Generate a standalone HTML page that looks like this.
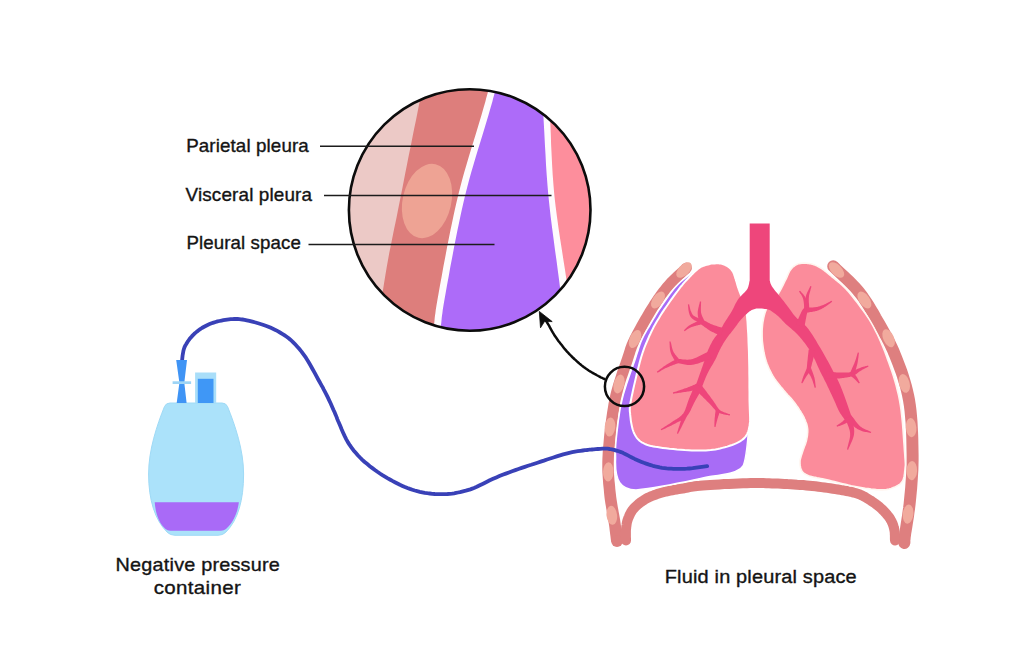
<!DOCTYPE html>
<html><head><meta charset="utf-8">
<style>
html,body{margin:0;padding:0;background:#fff;}
body{width:1024px;height:668px;overflow:hidden;position:relative;}
svg{position:absolute;left:0;top:0;}
text{font-family:"Liberation Sans",sans-serif;fill:#141414;stroke:#141414;stroke-width:0.35px;}
</style></head><body>
<svg width="1024" height="668" viewBox="0 0 1024 668">
<rect width="1024" height="668" fill="#fff"/>
<defs><clipPath id="mag"><circle cx="469.7" cy="210" r="120.8"/></clipPath></defs>
<g clip-path="url(#mag)">
<rect x="340" y="80" width="260" height="260" fill="#ecc9c6"/>
<path d="M428.0 60.0 L427.2 64.2 L426.3 68.3 L425.6 72.2 L424.8 76.2 L423.9 80.4 L423.0 84.8 L422.1 89.7 L421.0 95.0 L419.8 100.9 L418.5 107.2 L417.2 113.9 L415.8 120.9 L414.3 128.1 L412.8 135.4 L411.4 142.7 L409.9 150.0 L408.4 157.3 L406.9 164.9 L405.4 172.6 L403.9 180.3 L402.4 188.0 L400.9 195.6 L399.4 202.9 L398.0 210.0 L396.7 216.7 L395.4 223.0 L394.1 229.0 L392.9 235.0 L391.7 241.0 L390.5 247.0 L389.2 253.3 L388.0 260.0 L386.7 267.2 L385.4 275.0 L384.1 283.1 L382.8 291.2 L381.5 299.3 L380.2 306.9 L379.1 313.9 L378.0 320.0 L376.9 325.9 L376.0 330.8 L375.1 335.0 L374.4 338.7 L373.6 342.3 L372.8 346.0 L372.0 350.0 L640 345 L640 60 Z" fill="#dd7e7c"/>
<ellipse cx="427" cy="201" rx="24.3" ry="37.8" transform="rotate(13 427 201)" fill="#eea394"/>
<path d="M495.0 65.0 L494.1 68.4 L493.2 71.9 L492.3 75.3 L491.4 78.8 L490.5 82.2 L489.6 85.6 L488.7 89.1 L487.8 92.5 L486.9 95.7 L486.1 98.6 L485.4 101.4 L484.6 104.2 L483.7 107.3 L482.7 110.8 L481.5 115.0 L480.0 120.0 L478.2 126.0 L476.1 132.9 L473.8 140.6 L471.3 148.6 L468.8 156.8 L466.4 164.9 L464.1 172.8 L462.1 180.0 L460.4 186.6 L458.8 192.7 L457.4 198.6 L456.0 204.4 L454.7 210.2 L453.4 216.3 L452.0 222.9 L450.5 230.0 L448.9 238.1 L447.1 247.1 L445.3 256.8 L443.4 266.6 L441.7 276.2 L440.0 285.2 L438.6 293.3 L437.4 300.0 L436.5 305.3 L435.8 309.5 L435.4 312.9 L435.0 315.6 L434.7 318.0 L434.5 320.2 L434.3 322.4 L434.0 325.0 L433.6 328.1 L433.3 331.1 L433.0 333.9 L432.8 336.7 L432.5 339.4 L432.3 342.2 L432.0 345.0 L640 345 L640 60 Z" fill="#fefbfd"/>
<path d="M502.0 65.0 L501.1 68.4 L500.2 71.9 L499.3 75.3 L498.4 78.8 L497.5 82.2 L496.6 85.6 L495.7 89.1 L494.8 92.5 L493.9 95.7 L493.1 98.6 L492.4 101.4 L491.6 104.2 L490.7 107.3 L489.7 110.8 L488.5 115.0 L487.0 120.0 L485.2 126.0 L483.1 132.9 L480.8 140.6 L478.3 148.6 L475.8 156.8 L473.4 164.9 L471.1 172.8 L469.1 180.0 L467.4 186.6 L465.8 192.7 L464.4 198.6 L463.0 204.4 L461.7 210.2 L460.4 216.3 L459.0 222.9 L457.5 230.0 L455.9 238.1 L454.1 247.1 L452.3 256.8 L450.4 266.6 L448.7 276.2 L447.0 285.2 L445.6 293.3 L444.4 300.0 L443.5 305.3 L442.8 309.5 L442.4 312.9 L442.0 315.6 L441.7 318.0 L441.5 320.2 L441.3 322.4 L441.0 325.0 L440.6 328.1 L440.3 331.1 L440.0 333.9 L439.8 336.7 L439.5 339.4 L439.3 342.2 L439.0 345.0 L640 345 L640 60 Z" fill="#ad6bf9"/>
<path d="M540.0 60.0 L540.4 66.9 L540.8 73.6 L541.2 80.2 L541.6 86.8 L542.0 93.6 L542.4 100.8 L542.9 108.3 L543.4 116.5 L543.9 125.3 L544.4 134.6 L544.9 144.4 L545.5 154.4 L546.0 164.7 L546.7 175.1 L547.5 185.5 L548.4 195.8 L549.5 206.3 L550.7 217.1 L552.1 228.1 L553.6 239.2 L555.0 250.1 L556.5 260.5 L557.8 270.5 L559.0 279.6 L560.2 289.0 L561.3 297.5 L562.3 305.3 L563.2 312.7 L564.1 320.0 L565.0 327.3 L566.0 335.0 L640 345 L640 60 Z" fill="#fefbfd"/>
<path d="M548.0 60.0 L548.2 66.9 L548.4 73.6 L548.6 80.2 L548.9 86.8 L549.1 93.6 L549.3 100.8 L549.6 108.3 L550.0 116.5 L550.4 125.3 L550.8 134.6 L551.1 144.4 L551.6 154.4 L552.1 164.7 L552.7 175.1 L553.5 185.5 L554.4 195.8 L555.6 206.3 L557.0 217.1 L558.5 228.1 L560.2 239.2 L561.9 250.1 L563.5 260.5 L565.1 270.5 L566.4 279.6 L567.7 289.0 L568.9 297.5 L570.0 305.3 L571.0 312.7 L572.0 320.0 L573.0 327.3 L574.0 335.0 L640 345 L640 60 Z" fill="#fd8e9c"/>
</g>
<circle cx="469.7" cy="210" r="120.8" fill="none" stroke="#0c0c0c" stroke-width="2.6"/>
<g fill="none" stroke="#de7f7f" stroke-linecap="round" stroke-linejoin="round">
</g>
<path d="M682.8 264.1 L681.3 265.5 L679.8 266.9 L678.3 268.3 L676.7 269.7 L675.2 271.1 L673.6 272.6 L672.1 274.0 L670.5 275.5 L669.0 277.0 L667.4 278.6 L665.9 280.3 L664.4 281.9 L663.0 283.6 L661.6 285.2 L660.3 286.9 L659.0 288.5 L657.7 290.2 L656.4 291.9 L655.2 293.7 L653.9 295.5 L652.6 297.4 L651.3 299.4 L649.9 301.5 L648.6 303.7 L647.1 306.1 L645.5 308.6 L643.9 311.3 L642.2 314.2 L640.5 317.1 L638.8 320.0 L637.1 323.0 L635.5 325.9 L634.0 328.7 L632.5 331.4 L631.2 334.0 L630.0 336.3 L629.0 338.5 L628.1 340.3 L627.4 342.0 L626.7 343.6 L626.2 345.1 L625.6 346.5 L625.1 348.0 L624.7 349.5 L624.2 351.1 L623.6 352.9 L622.9 354.9 L622.2 357.3 L621.3 359.8 L620.4 362.6 L619.3 365.6 L618.2 368.8 L617.0 372.1 L615.9 375.6 L614.7 379.2 L613.5 382.9 L612.4 386.8 L611.3 390.7 L610.3 394.8 L609.5 398.9 L608.6 403.1 L607.9 407.6 L607.1 412.3 L606.4 417.2 L605.7 422.1 L605.1 427.1 L604.5 432.0 L604.0 436.9 L603.6 441.7 L603.2 446.3 L602.8 450.6 L602.6 454.7 L602.4 458.5 L602.3 462.2 L602.3 465.7 L602.3 469.1 L602.4 472.3 L602.6 475.4 L602.8 478.4 L603.0 481.3 L603.2 484.2 L603.5 487.0 L603.8 489.8 L604.0 492.6 L604.3 495.4 L604.6 498.3 L605.0 501.1 L605.4 503.8 L605.9 506.5 L606.3 509.1 L606.8 511.7 L607.2 514.1 L607.6 516.5 L608.0 518.7 L608.4 520.8 L608.7 522.9 L609.0 525.0 L609.3 526.9 L609.5 528.8 L609.7 530.5 L609.9 532.1 L610.1 533.7 L610.3 535.3 L610.5 536.8 L610.7 538.4 L610.9 540.1 L611.1 541.8 L622.9 540.2 L622.6 538.6 L622.4 537.0 L622.2 535.4 L622.0 533.8 L621.8 532.3 L621.6 530.6 L621.4 529.0 L621.2 527.2 L620.9 525.3 L620.6 523.3 L620.3 521.1 L620.0 519.0 L619.6 516.7 L619.2 514.4 L618.7 512.0 L618.3 509.6 L617.8 507.1 L617.4 504.6 L617.0 502.0 L616.6 499.4 L616.2 496.8 L615.9 494.1 L615.6 491.4 L615.3 488.7 L615.1 485.9 L614.8 483.1 L614.5 480.4 L614.3 477.6 L614.1 474.7 L614.0 471.8 L613.8 468.8 L613.8 465.6 L613.8 462.4 L613.9 458.9 L614.0 455.3 L614.3 451.4 L614.6 447.2 L615.0 442.7 L615.4 438.1 L615.9 433.3 L616.4 428.4 L617.0 423.6 L617.7 418.7 L618.3 414.0 L619.1 409.5 L619.8 405.2 L620.5 401.1 L621.4 397.3 L622.3 393.5 L623.3 389.8 L624.3 386.1 L625.4 382.6 L626.5 379.1 L627.7 375.7 L628.8 372.4 L629.9 369.3 L630.9 366.3 L631.9 363.4 L632.8 360.7 L633.6 358.3 L634.2 356.2 L634.8 354.4 L635.3 352.8 L635.7 351.4 L636.2 350.2 L636.6 348.9 L637.1 347.7 L637.6 346.4 L638.3 344.9 L639.0 343.2 L640.0 341.3 L641.1 339.0 L642.4 336.6 L643.7 334.0 L645.2 331.2 L646.8 328.4 L648.4 325.5 L650.1 322.6 L651.7 319.7 L653.3 317.0 L654.9 314.3 L656.4 311.8 L657.8 309.5 L659.2 307.4 L660.5 305.4 L661.7 303.5 L662.9 301.7 L664.1 300.0 L665.3 298.3 L666.5 296.7 L667.6 295.2 L668.8 293.7 L670.0 292.1 L671.3 290.6 L672.6 289.1 L673.9 287.6 L675.3 286.1 L676.7 284.7 L678.1 283.3 L679.5 281.9 L681.0 280.5 L682.5 279.1 L684.1 277.7 L685.6 276.3 L687.2 274.8 L688.7 273.4 L690.2 271.9Z" fill="#de7f7f"/><circle cx="686.5" cy="268" r="5.4" fill="#de7f7f"/><circle cx="617" cy="541" r="5.9" fill="#de7f7f"/>
<g fill="none" stroke="#de7f7f" stroke-linecap="round" stroke-linejoin="round">
<path d="M833.2 266.2 L835.8 268.8 L838.5 271.3 L841.2 273.8 L843.9 276.4 L846.6 278.9 L849.2 281.4 L851.8 284.0 L854.3 286.6 L856.7 289.3 L859.0 292.0 L861.2 294.7 L863.2 297.5 L865.1 300.3 L867.0 303.1 L868.8 306.0 L870.5 308.9 L872.3 311.8 L874.0 314.8 L875.7 317.9 L877.5 321.0 L879.3 324.1 L881.1 327.3 L882.9 330.5 L884.7 333.7 L886.5 337.0 L888.3 340.4 L890.0 343.8 L891.7 347.4 L893.4 351.1 L895.0 355.0 L896.6 359.0 L898.2 363.1 L899.8 367.4 L901.4 371.7 L902.9 376.2 L904.3 380.8 L905.7 385.4 L906.9 390.2 L908.0 395.0 L909.0 400.0 L909.8 405.1 L910.5 410.5 L911.0 416.1 L911.5 421.8 L911.8 427.5 L912.1 433.2 L912.3 438.9 L912.4 444.5 L912.5 449.9 L912.6 455.0 L912.6 459.9 L912.5 464.8 L912.4 469.6 L912.1 474.2 L911.8 478.8 L911.5 483.2 L911.2 487.6 L910.8 491.8 L910.4 495.9 L910.0 500.0 L909.6 504.0 L909.1 508.1 L908.5 512.1 L908.0 516.0 L907.4 519.8 L906.8 523.4 L906.3 526.8 L905.8 529.9 L905.3 532.6 L905.0 535.0 L904.7 537.1 L904.6 538.6 L904.4 539.7 L904.4 540.4 L904.4 540.9 L904.4 541.3 L904.4 541.7 L904.4 542.3 L904.3 543.0" stroke-width="12"/>
<path d="M626.0 540.4 L626.0 539.3 L626.0 538.2 L625.9 537.2 L625.9 536.1 L625.9 535.0 L625.9 533.9 L625.9 532.8 L625.9 531.8 L625.9 530.7 L626.0 529.6 L626.1 528.5 L626.2 527.5 L626.3 526.4 L626.5 525.3 L626.6 524.3 L626.8 523.2 L627.0 522.1 L627.3 521.0 L627.6 520.0 L628.0 518.9 L628.4 517.8 L628.9 516.7 L629.3 515.6 L629.9 514.5 L630.4 513.4 L631.0 512.3 L631.7 511.2 L632.4 510.2 L633.2 509.1 L634.1 508.1 L635.0 507.1 L636.1 506.1 L637.2 505.1 L638.3 504.1 L639.5 503.1 L640.8 502.2 L642.1 501.2 L643.4 500.4 L644.8 499.5 L646.2 498.7 L647.6 497.9 L649.1 497.2 L650.6 496.5 L652.2 495.9 L653.7 495.3 L655.4 494.7 L657.0 494.1 L658.8 493.5 L660.5 493.0 L662.3 492.5 L664.2 492.0 L666.1 491.5 L668.1 491.1 L670.1 490.7 L672.1 490.3 L674.2 489.9 L676.3 489.6 L678.4 489.2 L680.5 488.8 L682.5 488.5 L684.4 488.2 L686.2 487.8 L687.8 487.5 L689.4 487.2 L691.1 486.9 L692.9 486.6 L694.9 486.3 L697.1 486.0 L699.7 485.8 L702.7 485.5 L706.2 485.2 L710.2 485.0 L714.6 484.7 L719.3 484.4 L724.1 484.1 L729.0 483.9 L733.8 483.7 L738.5 483.5 L742.9 483.3 L746.9 483.2 L750.5 483.1 L754.0 483.1 L757.2 483.1 L760.3 483.1 L763.2 483.1 L766.2 483.2 L769.1 483.3 L772.0 483.4 L774.9 483.5 L778.0 483.6 L781.1 483.7 L784.3 483.9 L787.5 484.1 L790.7 484.2 L793.9 484.4 L797.0 484.7 L800.2 484.9 L803.3 485.1 L806.4 485.4 L809.4 485.7 L812.4 486.0 L815.5 486.3 L818.5 486.7 L821.5 487.1 L824.5 487.5 L827.4 487.9 L830.2 488.3 L832.9 488.7 L835.5 489.1 L838.0 489.5 L840.3 489.9 L842.5 490.3 L844.6 490.6 L846.6 491.0 L848.5 491.4 L850.4 491.7 L852.1 492.1 L853.8 492.6 L855.4 493.0 L857.0 493.5 L858.5 494.0 L859.9 494.5 L861.1 495.1 L862.3 495.6 L863.4 496.2 L864.6 496.8 L865.6 497.4 L866.7 498.1 L867.8 498.8 L869.0 499.5 L870.2 500.2 L871.4 501.0 L872.6 501.8 L873.8 502.6 L875.1 503.5 L876.3 504.4 L877.4 505.3 L878.6 506.2 L879.7 507.1 L880.8 508.1 L881.9 509.1 L882.9 510.1 L884.0 511.2 L885.0 512.3 L886.0 513.4 L886.9 514.5 L887.8 515.6 L888.7 516.7 L889.5 517.8 L890.2 518.9 L890.8 520.0 L891.4 521.0 L891.9 522.1 L892.4 523.2 L892.8 524.2 L893.2 525.3 L893.5 526.4 L893.8 527.5 L894.1 528.5 L894.3 529.6 L894.5 530.8 L894.7 532.0 L894.8 533.2 L894.8 534.4 L894.9 535.6 L894.9 536.8 L894.9 538.0 L894.9 539.2 L895.0 540.4" stroke-width="10"/>
</g>
<g fill="#f1aa9d">
<ellipse cx="684" cy="270" rx="5.3" ry="9.6" transform="rotate(45 684 270)"/>
<ellipse cx="658" cy="300" rx="5.3" ry="9.6" transform="rotate(35 658 300)"/>
<ellipse cx="635" cy="339" rx="5.3" ry="9.6" transform="rotate(25 635 339)"/>
<ellipse cx="619" cy="384" rx="5.3" ry="9.6" transform="rotate(15 619 384)"/>
<ellipse cx="610" cy="427" rx="5.3" ry="9.6" transform="rotate(6 610 427)"/>
<ellipse cx="608.3" cy="471.8" rx="5.3" ry="9.6" transform="rotate(2 608.3 471.8)"/>
<ellipse cx="611.8" cy="515.3" rx="5.3" ry="9.6" transform="rotate(-6 611.8 515.3)"/>
<ellipse cx="836.5" cy="270" rx="5.3" ry="9.6" transform="rotate(-45 836.5 270)"/>
<ellipse cx="864.4" cy="300" rx="5.3" ry="9.6" transform="rotate(-35 864.4 300)"/>
<ellipse cx="888.6" cy="338.3" rx="5.3" ry="9.6" transform="rotate(-25 888.6 338.3)"/>
<ellipse cx="904.3" cy="383.4" rx="5.3" ry="9.6" transform="rotate(-15 904.3 383.4)"/>
<ellipse cx="911.1" cy="427.6" rx="5.3" ry="9.6" transform="rotate(-5 911.1 427.6)"/>
<ellipse cx="911.8" cy="470.7" rx="5.3" ry="9.6" transform="rotate(2 911.8 470.7)"/>
<ellipse cx="908.1" cy="514.1" rx="5.3" ry="9.6" transform="rotate(6 908.1 514.1)"/>
</g>
<path d="M694.0 271.0 L691.8 272.8 L689.6 274.6 L687.3 276.4 L685.1 278.1 L682.9 279.9 L680.7 281.8 L678.6 283.8 L676.5 286.0 L674.4 288.4 L672.3 291.0 L670.3 293.7 L668.2 296.5 L666.3 299.3 L664.4 302.0 L662.6 304.6 L661.0 307.0 L659.5 309.2 L658.2 311.2 L657.0 313.1 L655.9 315.0 L654.8 316.8 L653.7 318.6 L652.6 320.5 L651.5 322.5 L650.3 324.5 L649.1 326.6 L647.8 328.6 L646.6 330.7 L645.4 332.8 L644.2 335.0 L643.1 337.2 L642.0 339.5 L641.0 341.8 L640.2 343.9 L639.5 346.1 L638.7 348.3 L638.0 350.7 L637.1 353.4 L636.1 356.5 L635.0 360.0 L633.6 364.1 L632.0 368.6 L630.2 373.6 L628.4 378.8 L626.6 384.1 L624.9 389.5 L623.3 394.9 L622.0 400.0 L620.9 405.1 L619.9 410.4 L619.1 415.8 L618.3 421.1 L617.7 426.3 L617.1 431.3 L616.6 435.9 L616.2 440.0 L615.8 444.1 L615.6 447.6 L615.5 450.7 L615.5 453.5 L615.6 456.2 L615.6 459.0 L615.5 462.0 C615.5 480 620 489.5 636 489.9 C665 487 690 480.5 710 476.5 C725 474.5 738 473 743 466 C746 460 747 450 748.5 430 L749 420 L700 285 Z" fill="#a86cf6" stroke="#fff" stroke-width="1.4"/>
<path d="M711.3 263.5 L712.2 263.5 L713.1 263.5 L714.1 263.4 L715.0 263.4 L715.9 263.3 L716.8 263.3 L717.7 263.3 L718.6 263.3 L719.5 263.4 L720.3 263.5 L721.1 263.6 L721.9 263.8 L722.7 264.0 L723.4 264.3 L724.1 264.5 L724.8 264.8 L725.5 265.1 L726.2 265.5 L726.9 265.8 L727.5 266.2 L728.1 266.6 L728.7 267.1 L729.3 267.5 L729.9 268.0 L730.4 268.6 L731.0 269.1 L731.5 269.7 L731.9 270.3 L732.4 270.9 L732.8 271.5 L733.2 272.1 L733.5 272.8 L733.8 273.5 L734.1 274.2 L734.3 274.9 L734.5 275.6 L734.8 276.3 L735.0 277.1 L735.2 277.9 L735.5 278.7 L735.8 279.5 L736.0 280.4 L736.3 281.3 L736.6 282.3 L736.9 283.2 L737.1 284.1 L737.4 285.1 L737.7 286.0 L737.9 286.9 L738.2 287.7 L738.5 288.5 L738.7 289.2 L739.0 289.9 L739.3 290.6 L739.5 291.3 L739.8 292.0 L740.1 292.7 L740.3 293.4 L740.6 294.1 L740.9 294.9 L741.2 295.7 L741.5 296.6 L741.8 297.4 L742.1 298.3 L742.4 299.1 L742.7 300.1 L743.1 301.0 L743.4 302.0 L743.7 303.0 L744.0 304.0 L744.3 305.0 L744.6 305.8 L744.9 306.5 L745.3 307.3 L745.6 308.1 L745.9 309.1 L746.2 310.3 L746.5 311.8 L746.7 313.7 L747.0 316.0 L747.2 318.8 L747.5 322.0 L747.7 325.5 L747.9 329.4 L748.2 333.4 L748.4 337.7 L748.5 342.0 L748.7 346.4 L748.9 350.7 L749.0 355.0 L749.1 359.3 L749.2 363.9 L749.3 368.7 L749.3 373.5 L749.4 378.3 L749.4 383.1 L749.4 387.7 L749.5 392.1 L749.5 396.2 L749.5 400.0 L749.6 403.4 L749.7 406.6 L749.8 409.6 L749.9 412.3 L750.0 414.9 L750.1 417.4 L750.1 419.7 L750.0 421.9 L749.8 424.0 L749.5 426.0 L749.1 427.9 L748.7 429.7 L748.3 431.3 L747.7 432.7 L747.1 434.1 L746.4 435.4 L745.6 436.6 L744.5 437.7 L743.4 438.9 L742.0 440.0 L740.4 441.1 L738.6 442.2 L736.6 443.2 L734.4 444.1 L732.1 445.0 L729.7 445.8 L727.3 446.6 L724.8 447.3 L722.4 447.9 L720.0 448.5 L717.7 449.0 L715.4 449.4 L713.0 449.7 L710.7 450.0 L708.3 450.2 L705.9 450.4 L703.3 450.5 L700.7 450.5 L697.9 450.5 L695.0 450.5 L691.8 450.4 L688.4 450.2 L684.7 450.0 L680.9 449.7 L677.0 449.4 L673.2 449.0 L669.5 448.7 L666.0 448.3 L662.8 447.9 L660.0 447.5 L657.5 447.1 L655.3 446.8 L653.3 446.4 L651.5 446.1 L649.9 445.7 L648.4 445.3 L646.9 444.8 L645.6 444.3 L644.3 443.7 L643.0 443.0 L641.8 442.3 L640.6 441.5 L639.5 440.7 L638.6 439.8 L637.7 438.8 L636.8 437.8 L636.1 436.8 L635.3 435.6 L634.7 434.4 L634.0 433.0 L633.4 431.5 L632.8 429.8 L632.3 428.1 L631.9 426.2 L631.5 424.3 L631.1 422.3 L630.8 420.3 L630.6 418.4 L630.4 416.6 L630.2 414.9 L630.1 413.4 L629.9 412.1 L629.8 411.0 L629.8 409.9 L629.8 408.9 L629.8 407.7 L630.0 406.3 L630.2 404.6 L630.5 402.5 L631.0 400.0 L631.6 396.9 L632.4 393.2 L633.3 389.0 L634.3 384.6 L635.4 380.0 L636.5 375.3 L637.6 370.8 L638.7 366.5 L639.7 362.6 L640.6 359.3 L641.4 356.5 L642.2 354.0 L642.9 351.8 L643.6 349.8 L644.2 348.0 L644.9 346.3 L645.6 344.6 L646.3 343.0 L647.0 341.3 L647.8 339.5 L648.6 337.6 L649.4 335.8 L650.3 334.0 L651.1 332.2 L652.0 330.4 L652.9 328.6 L653.8 326.8 L654.8 325.1 L655.8 323.3 L656.8 321.5 L657.9 319.7 L659.0 317.9 L660.1 316.1 L661.2 314.3 L662.4 312.4 L663.6 310.6 L664.8 308.8 L666.1 307.0 L667.3 305.3 L668.5 303.5 L669.7 301.7 L671.0 299.9 L672.3 298.1 L673.7 296.2 L675.0 294.4 L676.3 292.7 L677.6 291.0 L678.8 289.4 L679.9 287.9 L681.0 286.5 L682.0 285.3 L682.9 284.1 L683.8 283.1 L684.6 282.2 L685.4 281.3 L686.1 280.5 L686.9 279.8 L687.6 279.0 L688.3 278.3 L689.0 277.5 L689.7 276.7 L690.4 276.0 L691.1 275.3 L691.7 274.6 L692.4 274.0 L693.0 273.3 L693.6 272.7 L694.3 272.1 L694.9 271.6 L695.5 271.0 L696.1 270.5 L696.7 270.0 L697.2 269.5 L697.7 269.0 L698.2 268.6 L698.8 268.2 L699.4 267.8 L700.0 267.4 L700.7 267.0 L701.4 266.6 L702.3 266.2 L703.3 265.8 L704.4 265.5 L705.5 265.1 L706.7 264.8 L707.9 264.5 L709.0 264.2 L710.2 263.8 L711.3 263.5Z" fill="#fb8c9b" stroke="#fff" stroke-width="2"/>
<path d="M804.1 263.0 L805.0 263.1 L805.9 263.2 L806.8 263.3 L807.7 263.4 L808.6 263.5 L809.5 263.6 L810.4 263.8 L811.3 263.9 L812.2 264.1 L813.1 264.4 L814.0 264.7 L814.9 265.1 L815.8 265.4 L816.7 265.9 L817.6 266.3 L818.5 266.8 L819.4 267.3 L820.3 267.8 L821.2 268.3 L822.1 268.9 L823.0 269.5 L823.9 270.1 L824.7 270.8 L825.6 271.5 L826.4 272.2 L827.3 272.9 L828.2 273.6 L829.1 274.4 L830.0 275.2 L831.0 276.0 L832.0 276.8 L833.0 277.6 L834.1 278.5 L835.2 279.4 L836.3 280.3 L837.4 281.2 L838.5 282.1 L839.6 283.0 L840.7 284.0 L841.8 285.0 L842.8 285.9 L843.7 286.8 L844.6 287.7 L845.5 288.5 L846.4 289.4 L847.3 290.4 L848.3 291.5 L849.4 292.8 L850.6 294.3 L852.0 296.0 L853.6 298.0 L855.3 300.2 L857.2 302.6 L859.2 305.2 L861.2 307.9 L863.3 310.7 L865.3 313.5 L867.3 316.5 L869.2 319.4 L871.0 322.4 L872.7 325.4 L874.3 328.3 L875.8 331.3 L877.4 334.4 L878.8 337.5 L880.3 340.8 L881.7 344.1 L883.2 347.6 L884.6 351.2 L886.0 355.0 L887.4 359.0 L888.9 363.0 L890.4 367.3 L891.9 371.6 L893.4 376.1 L894.8 380.7 L896.1 385.4 L897.3 390.2 L898.5 395.0 L899.5 400.0 L900.4 405.3 L901.2 411.0 L901.9 417.1 L902.5 423.2 L903.0 429.4 L903.4 435.5 L903.8 441.2 L904.2 446.5 L904.5 451.1 L904.8 455.0 L905.0 458.1 L905.2 460.5 L905.3 462.3 L905.4 463.6 L905.4 464.7 L905.4 465.5 L905.3 466.2 L905.2 467.0 L905.1 467.9 L905.0 469.0 L904.9 470.3 L904.7 471.7 L904.6 473.0 L904.4 474.3 L904.2 475.6 L904.0 476.9 L903.7 478.1 L903.3 479.2 L902.9 480.2 L902.4 481.2 L901.8 482.1 L901.2 482.8 L900.5 483.6 L899.8 484.2 L899.0 484.8 L898.2 485.3 L897.3 485.8 L896.4 486.3 L895.4 486.8 L894.3 487.2 L893.2 487.6 L892.2 488.1 L891.1 488.5 L889.9 488.8 L888.7 489.2 L887.4 489.4 L886.0 489.7 L884.4 489.8 L882.7 489.9 L880.8 489.9 L878.7 489.8 L876.3 489.6 L873.7 489.3 L871.0 489.0 L868.2 488.6 L865.3 488.2 L862.4 487.7 L859.5 487.2 L856.7 486.7 L853.9 486.2 L851.2 485.7 L848.4 485.1 L845.5 484.4 L842.7 483.7 L839.8 483.0 L837.0 482.3 L834.3 481.6 L831.7 481.0 L829.2 480.4 L826.9 479.8 L824.7 479.3 L822.6 478.9 L820.6 478.5 L818.7 478.1 L816.9 477.8 L815.2 477.4 L813.6 477.1 L812.1 476.7 L810.7 476.3 L809.4 475.9 L808.2 475.5 L807.2 475.1 L806.3 474.6 L805.5 474.2 L804.7 473.8 L804.1 473.3 L803.5 472.8 L803.0 472.3 L802.5 471.7 L802.0 471.0 L801.6 470.3 L801.2 469.4 L800.9 468.6 L800.6 467.7 L800.4 466.7 L800.2 465.7 L800.1 464.8 L800.0 463.8 L800.0 462.8 L800.0 461.9 L800.0 461.0 L800.1 460.2 L800.3 459.3 L800.5 458.5 L800.7 457.7 L801.0 456.8 L801.2 455.9 L801.5 455.0 L801.9 454.0 L802.2 452.9 L802.6 451.7 L803.0 450.5 L803.5 449.1 L804.0 447.8 L804.5 446.3 L805.1 444.9 L805.6 443.5 L806.0 442.1 L806.4 440.7 L806.7 439.4 L806.9 438.1 L807.2 436.9 L807.4 435.7 L807.5 434.5 L807.6 433.3 L807.7 432.1 L807.7 431.0 L807.7 429.8 L807.6 428.6 L807.4 427.4 L807.2 426.2 L806.9 425.0 L806.6 423.8 L806.2 422.7 L805.7 421.5 L805.3 420.3 L804.7 419.1 L804.2 417.9 L803.6 416.7 L802.9 415.4 L802.2 414.1 L801.4 412.8 L800.6 411.4 L799.7 410.1 L798.8 408.7 L797.9 407.3 L796.9 406.0 L796.0 404.6 L795.0 403.3 L794.0 402.0 L793.0 400.8 L792.0 399.6 L791.0 398.4 L790.0 397.3 L788.9 396.1 L787.8 395.0 L786.8 393.8 L785.7 392.6 L784.6 391.3 L783.5 390.0 L782.4 388.6 L781.2 387.2 L780.0 385.7 L778.8 384.2 L777.6 382.7 L776.4 381.2 L775.2 379.6 L774.1 377.9 L773.0 376.2 L772.0 374.5 L771.1 372.7 L770.2 370.9 L769.3 369.1 L768.5 367.2 L767.7 365.3 L766.9 363.3 L766.2 361.3 L765.6 359.2 L765.0 357.1 L764.5 355.0 L764.0 352.8 L763.6 350.5 L763.2 348.1 L762.9 345.7 L762.6 343.3 L762.3 340.8 L762.2 338.4 L762.1 336.0 L762.1 333.6 L762.1 331.3 L762.2 329.0 L762.4 326.8 L762.6 324.5 L762.9 322.2 L763.3 320.0 L763.7 317.8 L764.2 315.7 L764.8 313.6 L765.4 311.6 L766.2 309.7 L767.1 307.9 L768.2 306.1 L769.3 304.5 L770.6 302.9 L772.0 301.3 L773.3 299.8 L774.6 298.4 L775.9 296.9 L777.1 295.5 L778.1 294.0 L779.0 292.5 L779.9 291.1 L780.7 289.7 L781.4 288.3 L782.1 286.9 L782.8 285.6 L783.4 284.3 L784.1 283.0 L784.7 281.7 L785.3 280.5 L785.9 279.3 L786.5 278.1 L787.0 276.9 L787.5 275.7 L788.0 274.6 L788.5 273.5 L789.0 272.5 L789.5 271.5 L790.0 270.5 L790.6 269.7 L791.2 268.9 L791.8 268.2 L792.4 267.6 L793.0 267.0 L793.6 266.5 L794.3 266.0 L794.9 265.5 L795.6 265.1 L796.2 264.7 L796.9 264.4 L797.7 264.1 L798.4 263.8 L799.2 263.6 L800.0 263.5 L800.9 263.4 L801.7 263.3 L802.5 263.2 L803.3 263.1 L804.1 263.0Z" fill="#fb8c9b" stroke="#fff5ef" stroke-width="1.6"/>
<g fill="#ee467b"><path d="M749.7 223.5 L749.7 280.4 L749.5 281.2 L749.3 282.1 L749.2 283.0 L749.0 283.9 L748.8 284.7 L748.6 285.5 L748.4 286.3 L748.2 287.0 L748.0 287.6 L747.8 288.1 L747.6 288.5 L747.3 288.9 L747.1 289.4 L746.7 289.8 L746.3 290.4 L745.7 291.1 L745.0 291.9 L744.1 292.8 L743.1 293.8 L742.1 294.8 L741.0 295.9 L739.9 297.1 L738.9 298.3 L738.0 299.5 L737.2 300.8 L736.4 302.2 L735.6 303.6 L734.9 305.1 L734.2 306.6 L733.5 308.1 L732.7 309.5 L731.9 311.0 L731.0 312.5 L730.1 314.0 L729.1 315.5 L728.1 317.0 L727.2 318.5 L726.2 319.9 L725.4 321.3 L724.6 322.5 L723.9 323.6 L723.4 324.5 L722.9 325.4 L722.5 326.2 L722.1 327.0 L721.6 327.8 L721.1 328.8 L720.4 329.8 L719.6 331.0 L718.7 332.2 L717.8 333.5 L716.8 334.9 L715.8 336.2 L714.8 337.6 L713.8 339.0 L713.0 340.3 L712.2 341.6 L711.5 343.0 L710.8 344.3 L710.1 345.6 L709.5 347.0 L708.9 348.3 L708.3 349.5 L707.8 350.8 L707.3 352.0 L706.9 353.1 L706.5 354.2 L706.2 355.3 L705.9 356.4 L705.5 357.5 L705.1 358.7 L704.7 360.0 L704.2 361.4 L703.7 362.8 L703.2 364.2 L702.7 365.7 L702.2 367.2 L701.6 368.8 L701.1 370.4 L700.5 372.0 L699.8 373.9 L699.1 375.9 L698.4 377.9 L697.7 379.9 L697.0 381.9 L696.2 384.0 L695.5 386.0 L701.5 388.0 L702.2 386.2 L703.0 384.4 L703.7 382.5 L704.4 380.7 L705.1 378.9 L705.9 377.1 L706.7 375.3 L707.5 373.5 L708.4 371.7 L709.3 370.0 L710.3 368.3 L711.3 366.6 L712.3 364.9 L713.3 363.2 L714.2 361.6 L715.1 360.0 L715.9 358.5 L716.6 357.0 L717.2 355.6 L717.8 354.2 L718.4 352.8 L719.1 351.4 L719.7 350.1 L720.4 348.7 L721.1 347.3 L721.9 346.0 L722.6 344.7 L723.4 343.3 L724.2 342.0 L725.0 340.7 L725.9 339.5 L726.7 338.2 L727.6 337.0 L728.5 335.7 L729.4 334.6 L730.4 333.4 L731.3 332.2 L732.2 331.1 L733.1 329.9 L734.0 328.8 L734.8 327.7 L735.7 326.6 L736.5 325.5 L737.2 324.4 L738.0 323.3 L738.8 322.3 L739.5 321.3 L740.3 320.4 L741.0 319.5 L741.8 318.7 L742.5 317.9 L743.2 317.2 L743.9 316.5 L744.6 315.8 L745.3 315.1 L746.0 314.5 L746.7 313.9 L747.3 313.3 L747.9 312.8 L748.5 312.3 L749.1 311.8 L749.7 311.3 L750.3 310.9 L751.0 310.5 L751.7 310.1 L752.5 309.8 L753.2 309.5 L754.0 309.2 L754.8 309.0 L755.6 308.8 L756.3 308.6 L757.1 308.5 L757.8 308.4 L758.6 308.4 L759.3 308.4 L760.0 308.4 L760.7 308.4 L761.5 308.5 L762.2 308.6 L763.0 308.7 L763.8 308.8 L764.6 308.9 L765.3 308.9 L766.1 309.0 L767.0 309.2 L767.8 309.4 L768.7 309.7 L769.6 310.1 L770.6 310.6 L771.6 311.2 L772.6 311.9 L773.7 312.7 L774.8 313.5 L775.9 314.3 L776.9 315.2 L778.0 316.1 L779.0 317.0 L780.0 318.0 L781.1 319.1 L782.1 320.2 L783.1 321.2 L784.1 322.3 L785.2 323.4 L786.3 324.5 L787.5 325.5 L788.7 326.6 L789.9 327.6 L791.1 328.6 L792.4 329.7 L793.6 330.7 L794.8 331.8 L796.0 332.9 L797.1 334.1 L798.2 335.3 L799.4 336.5 L800.4 337.8 L801.5 339.0 L802.5 340.2 L803.4 341.4 L804.3 342.5 L805.1 343.5 L805.8 344.5 L806.5 345.4 L807.1 346.4 L807.7 347.2 L808.3 348.1 L808.9 349.1 L809.5 350.0 L810.1 350.9 L810.7 351.9 L811.2 352.8 L811.7 353.7 L812.3 354.7 L812.8 355.7 L813.4 356.8 L814.0 358.0 L814.6 359.3 L815.3 360.6 L815.9 362.1 L816.6 363.6 L817.2 365.1 L818.0 366.7 L818.7 368.3 L819.5 370.0 L820.3 371.7 L821.2 373.5 L822.2 375.4 L823.2 377.3 L824.1 379.2 L825.1 381.2 L826.1 383.1 L827.0 385.0 L827.9 386.9 L828.8 388.8 L829.7 390.8 L830.6 392.7 L831.5 394.6 L832.4 396.5 L833.2 398.3 L834.0 400.0 L834.8 401.7 L835.5 403.3 L836.2 404.9 L836.8 406.4 L837.5 407.9 L838.2 409.4 L838.8 410.7 L839.5 412.0 L840.3 413.4 L841.1 414.6 L841.9 415.7 L842.6 416.8 L843.4 417.8 L844.2 418.9 L845.0 420.0 L852.0 418.0 L851.4 416.3 L850.8 414.6 L850.3 412.9 L849.7 411.2 L849.1 409.5 L848.5 407.8 L847.9 405.9 L847.2 404.0 L846.5 401.9 L845.7 399.8 L844.9 397.5 L844.1 395.2 L843.2 392.9 L842.3 390.5 L841.4 388.2 L840.5 386.0 L839.5 383.8 L838.5 381.6 L837.4 379.3 L836.2 377.1 L835.1 375.0 L834.0 372.9 L833.0 370.9 L832.0 369.0 L831.1 367.2 L830.2 365.6 L829.4 364.0 L828.6 362.5 L827.8 361.1 L827.0 359.7 L826.3 358.4 L825.5 357.0 L824.8 355.7 L824.1 354.5 L823.4 353.3 L822.7 352.1 L822.1 351.0 L821.4 349.8 L820.7 348.6 L819.9 347.3 L819.1 345.9 L818.2 344.4 L817.3 342.9 L816.4 341.3 L815.5 339.7 L814.5 338.2 L813.6 336.7 L812.7 335.3 L811.8 334.0 L811.0 332.7 L810.1 331.5 L809.2 330.3 L808.4 329.1 L807.5 328.0 L806.5 326.8 L805.5 325.7 L804.4 324.6 L803.2 323.5 L802.0 322.5 L800.8 321.5 L799.5 320.5 L798.3 319.4 L797.1 318.4 L796.0 317.3 L795.0 316.2 L794.0 315.0 L793.1 313.9 L792.3 312.7 L791.4 311.5 L790.5 310.3 L789.6 309.1 L788.7 307.8 L787.7 306.5 L786.6 305.1 L785.6 303.7 L784.5 302.2 L783.4 300.8 L782.3 299.5 L781.3 298.2 L780.4 297.0 L779.5 295.9 L778.7 294.9 L777.9 294.0 L777.1 293.1 L776.4 292.3 L775.7 291.5 L775.1 290.8 L774.5 290.0 L774.0 289.3 L773.5 288.6 L773.0 288.0 L772.6 287.3 L772.2 286.8 L771.8 286.2 L771.5 285.6 L771.2 285.0 L770.9 284.3 L770.6 283.7 L770.4 283.0 L770.2 282.4 L770.1 281.7 L769.9 281.1 L769.7 280.4 L769.7 223.5 Z"/><path d="M697.6 383.5 L696.5 383.9 L695.5 384.3 L694.5 384.7 L693.5 385.1 L692.5 385.5 L691.6 385.9 L690.6 386.3 L689.6 386.7 L688.6 387.1 L687.6 387.5 L686.6 387.9 L685.5 388.2 L684.4 388.6 L683.3 389.0 L682.1 389.4 L681.0 389.8 L679.8 390.2 L678.7 390.6 L677.5 391.0 L676.4 391.4 L675.2 391.7 L674.0 392.1 L672.9 392.5 L673.1 393.7 L674.3 393.5 L675.6 393.3 L676.8 393.2 L678.0 393.0 L679.2 392.8 L680.4 392.7 L681.6 392.5 L682.8 392.3 L684.1 392.1 L685.3 392.0 L686.5 391.8 L687.6 391.6 L688.6 391.4 L689.7 391.2 L690.8 391.0 L691.9 390.8 L692.9 390.5 L694.0 390.3 L695.0 390.1 L696.1 389.9 L697.1 389.7 L698.2 389.5 L699.2 389.3Z"/><path d="M695.3 384.2 L694.8 385.3 L694.3 386.5 L693.8 387.7 L693.3 388.9 L692.7 390.1 L692.2 391.3 L691.7 392.5 L691.2 393.7 L690.7 394.9 L690.1 396.1 L689.6 397.4 L689.1 398.6 L688.6 400.0 L688.1 401.3 L687.6 402.7 L687.2 404.1 L686.7 405.5 L686.3 406.8 L685.8 408.1 L685.4 409.3 L684.9 410.5 L684.4 411.6 L683.8 412.6 L683.3 413.5 L682.6 414.3 L681.9 415.1 L681.1 415.8 L680.2 416.5 L679.3 417.2 L678.4 417.9 L677.4 418.5 L676.4 419.2 L675.3 419.8 L674.3 420.5 L673.3 421.1 L672.3 421.8 L671.2 422.5 L670.2 423.2 L669.1 423.9 L668.1 424.6 L667.0 425.3 L666.0 425.9 L664.9 426.6 L663.9 427.3 L662.8 427.9 L661.8 428.6 L660.7 429.3 L661.3 430.3 L662.4 429.8 L663.5 429.2 L664.7 428.7 L665.8 428.2 L666.9 427.6 L668.0 427.1 L669.2 426.5 L670.3 426.0 L671.5 425.4 L672.6 424.8 L673.7 424.2 L674.8 423.7 L675.8 423.2 L676.9 422.6 L678.0 422.1 L679.1 421.6 L680.2 421.0 L681.4 420.4 L682.5 419.8 L683.6 419.0 L684.7 418.2 L685.7 417.3 L686.7 416.3 L687.7 415.2 L688.5 414.0 L689.3 412.8 L690.0 411.5 L690.7 410.2 L691.3 408.8 L691.9 407.5 L692.5 406.2 L693.1 404.9 L693.7 403.7 L694.3 402.5 L694.9 401.4 L695.5 400.2 L696.2 399.1 L696.8 398.0 L697.5 396.8 L698.1 395.7 L698.8 394.6 L699.4 393.5 L700.1 392.4 L700.7 391.2 L701.4 390.1 L702.0 389.0 L702.7 387.8Z"/><path d="M682.9 414.1 L682.6 414.9 L682.4 415.8 L682.1 416.7 L681.8 417.6 L681.6 418.5 L681.3 419.4 L681.0 420.3 L680.8 421.1 L680.5 422.0 L680.2 422.8 L680.0 423.7 L679.7 424.5 L679.5 425.4 L679.2 426.2 L678.9 427.0 L678.7 427.8 L678.4 428.6 L678.2 429.4 L677.9 430.2 L677.7 431.0 L677.4 431.8 L677.2 432.6 L676.9 433.4 L678.1 433.8 L678.4 433.1 L678.8 432.3 L679.2 431.6 L679.6 430.9 L679.9 430.1 L680.3 429.4 L680.7 428.6 L681.1 427.9 L681.5 427.1 L681.9 426.3 L682.3 425.5 L682.6 424.7 L683.0 424.0 L683.4 423.2 L683.8 422.4 L684.2 421.5 L684.6 420.7 L685.1 419.9 L685.5 419.0 L685.9 418.2 L686.3 417.4 L686.7 416.5 L687.1 415.7Z"/><path d="M696.2 390.5 L696.8 391.1 L697.5 391.7 L698.1 392.4 L698.8 393.0 L699.4 393.6 L700.1 394.3 L700.7 394.9 L701.3 395.5 L702.0 396.1 L702.6 396.8 L703.2 397.4 L703.8 397.9 L704.3 398.5 L704.9 399.1 L705.4 399.6 L706.0 400.1 L706.5 400.7 L707.0 401.2 L707.5 401.7 L708.1 402.2 L708.6 402.7 L709.1 403.3 L709.6 403.8 L710.1 404.3 L710.7 404.9 L711.2 405.5 L711.7 406.1 L712.3 406.7 L712.9 407.4 L713.4 408.1 L714.0 408.7 L714.6 409.3 L715.1 410.0 L715.7 410.5 L716.3 411.1 L716.8 411.6 L717.4 412.0 L717.9 412.3 L718.4 412.6 L718.9 412.9 L719.4 413.1 L719.9 413.3 L720.3 413.4 L720.8 413.6 L721.2 413.7 L721.7 413.8 L722.1 413.9 L722.6 414.1 L723.2 414.2 L723.8 414.4 L724.5 414.5 L725.1 414.7 L725.8 414.8 L726.5 414.9 L727.1 415.0 L727.8 415.1 L728.4 415.2 L729.1 415.4 L729.7 415.5 L730.1 414.3 L729.4 414.1 L728.8 413.9 L728.2 413.7 L727.5 413.5 L726.9 413.3 L726.2 413.0 L725.6 412.8 L725.0 412.6 L724.5 412.4 L723.9 412.2 L723.4 411.9 L722.9 411.7 L722.5 411.5 L722.0 411.3 L721.6 411.2 L721.3 411.0 L720.9 410.8 L720.6 410.6 L720.3 410.4 L720.0 410.2 L719.7 409.9 L719.3 409.6 L719.0 409.2 L718.6 408.8 L718.2 408.3 L717.8 407.8 L717.4 407.1 L716.9 406.5 L716.5 405.8 L716.0 405.1 L715.6 404.3 L715.1 403.6 L714.6 402.9 L714.1 402.1 L713.7 401.5 L713.2 400.8 L712.8 400.2 L712.3 399.6 L711.9 399.0 L711.4 398.4 L711.0 397.8 L710.6 397.2 L710.1 396.6 L709.7 396.0 L709.2 395.3 L708.7 394.7 L708.2 394.1 L707.7 393.4 L707.2 392.7 L706.7 392.0 L706.2 391.3 L705.6 390.6 L705.1 389.9 L704.5 389.1 L704.0 388.4 L703.4 387.7 L702.9 387.0 L702.4 386.2 L701.8 385.5Z"/><path d="M715.7 409.9 L715.6 410.6 L715.5 411.4 L715.4 412.1 L715.3 412.9 L715.2 413.6 L715.1 414.3 L715.0 415.1 L715.0 415.8 L714.9 416.6 L714.8 417.3 L714.7 418.0 L714.6 418.8 L714.6 419.5 L714.5 420.3 L714.5 421.0 L714.5 421.7 L714.4 422.5 L714.4 423.2 L714.4 423.9 L714.4 424.6 L714.4 425.3 L714.3 426.0 L714.3 426.7 L715.5 426.9 L715.7 426.2 L715.8 425.5 L716.0 424.8 L716.1 424.1 L716.3 423.4 L716.5 422.7 L716.6 422.0 L716.8 421.4 L717.0 420.7 L717.2 420.0 L717.4 419.2 L717.6 418.6 L717.8 417.9 L718.0 417.2 L718.2 416.6 L718.4 415.9 L718.7 415.2 L718.9 414.4 L719.1 413.7 L719.4 413.0 L719.6 412.3 L719.9 411.6 L720.1 410.9Z"/><path d="M723.5 328.2 L722.6 327.9 L721.6 327.6 L720.6 327.3 L719.6 327.0 L718.7 326.7 L717.7 326.4 L716.8 326.1 L715.8 325.8 L715.0 325.5 L714.1 325.2 L713.2 324.9 L712.4 324.6 L711.6 324.3 L710.7 323.9 L709.9 323.5 L709.1 323.1 L708.3 322.7 L707.5 322.2 L706.7 321.8 L705.8 321.3 L705.0 320.9 L704.1 320.4 L703.3 320.0 L700.7 324.0 L701.5 324.6 L702.2 325.2 L703.0 325.7 L703.7 326.3 L704.5 326.9 L705.3 327.5 L706.1 328.0 L706.9 328.6 L707.7 329.2 L708.6 329.8 L709.6 330.4 L710.4 330.9 L711.4 331.4 L712.3 331.9 L713.2 332.3 L714.1 332.8 L715.0 333.2 L716.0 333.7 L716.9 334.1 L717.8 334.5 L718.7 335.0 L719.6 335.4 L720.5 335.8Z"/><path d="M704.5 321.2 L704.2 320.5 L703.9 319.7 L703.5 319.0 L703.2 318.3 L702.8 317.6 L702.5 316.9 L702.2 316.3 L701.9 315.6 L701.7 315.0 L701.5 314.3 L701.3 313.6 L701.1 312.9 L701.0 312.0 L700.9 311.1 L700.9 310.1 L700.9 309.1 L700.9 308.1 L700.9 307.0 L701.0 305.9 L701.0 304.8 L701.0 303.7 L701.1 302.6 L701.1 301.6 L699.9 301.4 L699.7 302.5 L699.5 303.5 L699.2 304.6 L698.9 305.6 L698.7 306.7 L698.4 307.8 L698.2 308.9 L698.0 309.9 L697.8 311.0 L697.7 312.1 L697.7 313.1 L697.7 314.1 L697.8 315.0 L697.9 315.9 L698.0 316.7 L698.2 317.6 L698.4 318.4 L698.6 319.2 L698.8 319.9 L699.0 320.6 L699.2 321.3 L699.3 322.0 L699.5 322.8Z"/><path d="M703.0 320.0 L702.2 319.7 L701.4 319.3 L700.5 318.9 L699.7 318.6 L698.8 318.3 L698.0 317.9 L697.2 317.6 L696.5 317.3 L695.8 317.0 L695.1 316.6 L694.6 316.3 L694.1 316.0 L693.7 315.7 L693.3 315.4 L693.0 315.1 L692.7 314.8 L692.5 314.5 L692.3 314.2 L692.1 313.8 L691.9 313.4 L691.7 313.0 L691.5 312.6 L691.3 312.1 L691.1 311.6 L690.8 311.1 L690.6 310.5 L690.4 309.9 L690.3 309.2 L690.1 308.6 L689.9 307.9 L689.8 307.1 L689.6 306.4 L689.4 305.7 L689.3 305.0 L689.1 304.3 L687.9 304.5 L688.0 305.2 L688.1 305.9 L688.1 306.7 L688.2 307.4 L688.3 308.1 L688.3 308.9 L688.4 309.6 L688.5 310.3 L688.6 311.0 L688.8 311.7 L688.9 312.4 L689.1 312.9 L689.2 313.4 L689.4 313.9 L689.5 314.4 L689.7 314.9 L689.9 315.4 L690.1 315.9 L690.4 316.4 L690.8 316.9 L691.2 317.4 L691.6 317.9 L692.1 318.4 L692.7 318.9 L693.4 319.4 L694.1 319.9 L694.8 320.4 L695.6 320.8 L696.4 321.3 L697.2 321.8 L697.9 322.2 L698.7 322.7 L699.5 323.1 L700.2 323.6 L701.0 324.0Z"/><path d="M701.3 319.9 L700.7 320.1 L700.0 320.4 L699.4 320.7 L698.7 321.0 L698.0 321.2 L697.4 321.5 L696.7 321.8 L696.0 322.1 L695.4 322.3 L694.8 322.6 L694.2 322.9 L693.6 323.1 L693.1 323.4 L692.6 323.6 L692.2 323.9 L691.7 324.1 L691.3 324.3 L690.9 324.5 L690.5 324.8 L690.0 325.0 L689.6 325.2 L689.2 325.5 L688.8 325.8 L688.4 326.1 L688.0 326.4 L687.5 326.8 L687.1 327.1 L686.7 327.5 L686.3 327.9 L685.9 328.3 L685.5 328.7 L685.1 329.1 L684.7 329.5 L684.3 329.9 L683.9 330.2 L684.7 331.2 L685.1 330.9 L685.6 330.5 L686.0 330.2 L686.5 329.9 L686.9 329.6 L687.4 329.3 L687.8 329.0 L688.3 328.7 L688.7 328.4 L689.1 328.2 L689.6 327.9 L690.0 327.7 L690.4 327.6 L690.8 327.4 L691.2 327.2 L691.5 327.1 L691.9 326.9 L692.4 326.8 L692.8 326.7 L693.2 326.5 L693.7 326.4 L694.2 326.2 L694.8 326.1 L695.3 325.9 L695.9 325.8 L696.5 325.6 L697.2 325.4 L697.8 325.3 L698.5 325.1 L699.2 325.0 L699.9 324.8 L700.6 324.6 L701.3 324.5 L702.0 324.3 L702.7 324.1Z"/><path d="M708.6 351.5 L707.1 352.2 L705.5 353.0 L704.0 353.7 L702.5 354.5 L701.0 355.3 L699.5 356.0 L698.0 356.7 L696.6 357.4 L695.2 358.0 L693.9 358.5 L692.7 358.9 L691.5 359.2 L690.3 359.5 L689.1 359.6 L687.9 359.7 L686.7 359.7 L685.5 359.6 L684.3 359.5 L683.0 359.4 L681.7 359.2 L680.4 359.1 L679.0 359.0 L677.7 358.9 L677.3 363.1 L678.6 363.3 L679.8 363.5 L681.0 363.7 L682.2 364.0 L683.5 364.3 L684.9 364.5 L686.3 364.8 L687.7 364.9 L689.2 365.0 L690.8 364.9 L692.5 364.8 L694.1 364.5 L695.7 364.1 L697.3 363.7 L698.9 363.2 L700.5 362.6 L702.1 362.0 L703.7 361.4 L705.3 360.8 L706.8 360.1 L708.4 359.6 L709.9 359.0 L711.4 358.5Z"/><path d="M679.4 359.8 L678.9 359.1 L678.3 358.3 L677.7 357.6 L677.2 356.9 L676.6 356.2 L676.1 355.6 L675.5 354.9 L675.0 354.2 L674.6 353.6 L674.1 352.9 L673.7 352.2 L673.3 351.5 L673.0 350.7 L672.7 349.9 L672.4 349.0 L672.1 348.1 L671.9 347.2 L671.7 346.2 L671.5 345.3 L671.3 344.3 L671.1 343.3 L670.8 342.4 L670.6 341.4 L669.4 341.6 L669.5 342.6 L669.6 343.5 L669.6 344.5 L669.7 345.5 L669.7 346.5 L669.8 347.5 L669.9 348.5 L670.0 349.5 L670.2 350.5 L670.4 351.5 L670.7 352.5 L671.0 353.4 L671.3 354.3 L671.7 355.2 L672.1 356.0 L672.6 356.8 L673.0 357.6 L673.5 358.4 L673.9 359.2 L674.4 359.9 L674.8 360.7 L675.2 361.4 L675.6 362.2Z"/><path d="M676.5 359.0 L675.7 359.4 L674.9 359.9 L674.0 360.4 L673.2 360.8 L672.3 361.3 L671.4 361.8 L670.6 362.2 L669.7 362.7 L668.9 363.2 L668.0 363.7 L667.2 364.2 L666.3 364.8 L665.4 365.4 L664.5 366.0 L663.6 366.6 L662.8 367.2 L661.9 367.9 L661.1 368.5 L660.2 369.1 L659.4 369.8 L658.6 370.4 L657.7 371.1 L656.9 371.7 L657.5 372.7 L658.5 372.2 L659.4 371.7 L660.3 371.2 L661.2 370.6 L662.1 370.1 L663.1 369.6 L664.0 369.1 L664.9 368.6 L665.8 368.1 L666.8 367.7 L667.7 367.2 L668.5 366.9 L669.4 366.5 L670.3 366.1 L671.2 365.8 L672.1 365.4 L673.0 365.1 L673.9 364.8 L674.8 364.4 L675.7 364.1 L676.6 363.7 L677.5 363.4 L678.5 363.0Z"/><path d="M804.3 327.4 L804.5 326.1 L804.8 324.9 L805.0 323.6 L805.3 322.3 L805.5 321.0 L805.7 319.7 L806.0 318.5 L806.2 317.3 L806.4 316.2 L806.6 315.2 L806.8 314.3 L807.0 313.6 L807.2 312.9 L807.3 312.5 L807.4 312.2 L807.4 312.0 L807.5 311.9 L807.5 311.9 L807.6 311.7 L807.8 311.5 L808.1 311.2 L808.4 310.8 L808.6 310.4 L804.8 307.6 L804.6 307.7 L804.5 307.8 L804.4 307.8 L804.2 308.0 L803.9 308.2 L803.6 308.5 L803.2 308.9 L802.8 309.4 L802.4 310.0 L802.0 310.7 L801.6 311.4 L801.2 312.3 L800.8 313.2 L800.3 314.2 L799.8 315.2 L799.3 316.4 L798.8 317.6 L798.3 318.8 L797.8 320.0 L797.2 321.2 L796.7 322.4 L796.2 323.5 L795.7 324.6Z"/><path d="M809.3 309.1 L809.3 308.1 L809.2 307.0 L809.1 306.0 L809.1 305.0 L809.0 304.0 L808.9 303.0 L808.8 302.0 L808.8 301.0 L808.8 300.1 L808.8 299.1 L808.8 298.2 L808.9 297.3 L809.0 296.3 L809.1 295.3 L809.3 294.4 L809.5 293.4 L809.8 292.4 L810.1 291.4 L810.4 290.4 L810.6 289.4 L810.9 288.4 L811.2 287.4 L811.5 286.4 L810.3 286.0 L809.9 286.9 L809.5 287.9 L809.0 288.8 L808.6 289.7 L808.1 290.7 L807.7 291.6 L807.2 292.6 L806.8 293.6 L806.4 294.6 L806.1 295.6 L805.7 296.7 L805.5 297.7 L805.3 298.7 L805.1 299.8 L805.0 300.8 L804.8 301.8 L804.7 302.9 L804.6 303.9 L804.5 304.9 L804.4 305.9 L804.3 306.9 L804.2 307.9 L804.1 308.9Z"/><path d="M808.9 308.5 L808.6 307.7 L808.4 306.8 L808.1 305.9 L807.9 304.9 L807.6 304.0 L807.4 303.0 L807.1 302.1 L806.9 301.2 L806.6 300.3 L806.2 299.4 L805.9 298.5 L805.5 297.7 L805.1 296.9 L804.6 296.1 L804.1 295.4 L803.6 294.7 L803.1 294.1 L802.5 293.5 L802.0 292.9 L801.5 292.4 L801.0 291.8 L800.5 291.3 L800.0 290.7 L799.0 291.3 L799.4 292.0 L799.8 292.7 L800.2 293.4 L800.7 294.0 L801.1 294.6 L801.5 295.3 L801.9 295.9 L802.2 296.6 L802.5 297.2 L802.8 297.9 L803.1 298.7 L803.3 299.4 L803.4 300.2 L803.6 301.0 L803.7 301.9 L803.8 302.8 L803.9 303.7 L804.0 304.6 L804.1 305.6 L804.2 306.6 L804.3 307.5 L804.4 308.5 L804.5 309.5Z"/><path d="M806.9 312.6 L807.7 312.5 L808.5 312.4 L809.3 312.2 L810.1 312.1 L811.0 312.0 L811.8 311.9 L812.6 311.7 L813.5 311.6 L814.3 311.5 L815.1 311.3 L815.9 311.1 L816.7 310.9 L817.5 310.6 L818.2 310.4 L818.9 310.1 L819.6 309.8 L820.2 309.5 L820.9 309.2 L821.5 308.9 L822.1 308.6 L822.7 308.2 L823.3 307.9 L824.0 307.5 L824.6 307.1 L825.3 306.7 L826.0 306.3 L826.7 305.8 L827.4 305.3 L828.1 304.8 L828.8 304.3 L829.5 303.7 L830.2 303.2 L830.9 302.7 L831.5 302.2 L832.2 301.7 L831.6 300.7 L830.8 301.1 L830.1 301.5 L829.3 301.9 L828.6 302.3 L827.8 302.7 L827.1 303.1 L826.3 303.5 L825.6 303.9 L824.8 304.2 L824.1 304.5 L823.4 304.9 L822.8 305.1 L822.1 305.4 L821.5 305.6 L820.9 305.8 L820.3 306.1 L819.7 306.3 L819.0 306.4 L818.4 306.6 L817.8 306.8 L817.2 306.9 L816.5 307.0 L815.9 307.1 L815.2 307.2 L814.5 307.3 L813.8 307.3 L813.0 307.4 L812.2 307.4 L811.4 307.4 L810.6 307.4 L809.8 307.4 L809.0 307.4 L808.1 307.4 L807.3 307.4 L806.5 307.4Z"/><path d="M808.7 349.4 L808.5 350.9 L808.4 352.4 L808.2 354.0 L808.0 355.7 L807.8 357.3 L807.7 358.9 L807.5 360.5 L807.3 361.9 L807.2 363.3 L807.1 364.6 L807.0 365.7 L806.9 366.7 L806.8 367.5 L806.8 368.2 L806.8 368.7 L806.8 369.2 L806.9 369.6 L807.0 370.2 L807.2 370.6 L807.2 370.5 L807.1 370.2 L807.1 370.0 L807.1 370.1 L810.9 369.9 L810.9 369.6 L810.8 369.1 L810.6 368.6 L810.5 368.4 L810.6 368.7 L810.7 369.0 L810.8 369.1 L810.8 368.9 L810.8 368.6 L811.0 368.1 L811.1 367.3 L811.3 366.4 L811.6 365.4 L811.9 364.1 L812.2 362.8 L812.6 361.4 L813.0 359.9 L813.4 358.3 L813.8 356.7 L814.2 355.1 L814.6 353.6 L815.0 352.0 L815.3 350.6Z"/><path d="M807.1 367.9 L806.8 368.5 L806.5 369.1 L806.2 369.7 L805.9 370.3 L805.7 370.9 L805.4 371.6 L805.1 372.2 L804.8 372.8 L804.5 373.5 L804.3 374.1 L804.0 374.7 L803.7 375.4 L803.5 376.1 L803.2 376.7 L803.0 377.4 L802.8 378.1 L802.5 378.8 L802.3 379.5 L802.1 380.2 L801.9 380.8 L801.7 381.5 L801.5 382.2 L801.3 382.9 L802.3 383.3 L802.7 382.7 L803.1 382.1 L803.4 381.5 L803.8 380.9 L804.1 380.3 L804.4 379.6 L804.8 379.0 L805.1 378.4 L805.5 377.8 L805.9 377.2 L806.3 376.6 L806.6 376.1 L807.0 375.6 L807.4 375.0 L807.7 374.5 L808.1 374.0 L808.5 373.4 L808.9 372.9 L809.3 372.3 L809.7 371.8 L810.1 371.2 L810.5 370.7 L810.9 370.1Z"/><path d="M807.0 369.9 L807.4 370.7 L807.8 371.4 L808.2 372.1 L808.6 372.8 L809.0 373.5 L809.4 374.2 L809.8 374.9 L810.2 375.6 L810.6 376.3 L811.0 377.0 L811.3 377.7 L811.6 378.5 L812.0 379.2 L812.3 380.0 L812.6 380.9 L812.9 381.7 L813.1 382.6 L813.4 383.4 L813.7 384.3 L813.9 385.1 L814.2 386.0 L814.4 386.9 L814.7 387.7 L815.9 387.5 L815.8 386.6 L815.6 385.7 L815.5 384.8 L815.4 383.9 L815.3 383.0 L815.2 382.1 L815.1 381.2 L814.9 380.3 L814.8 379.4 L814.6 378.5 L814.4 377.5 L814.1 376.7 L813.9 375.9 L813.6 375.1 L813.3 374.3 L813.1 373.5 L812.8 372.7 L812.5 371.9 L812.2 371.1 L811.9 370.4 L811.6 369.6 L811.3 368.8 L811.0 368.1Z"/><path d="M825.8 378.7 L826.8 378.7 L827.9 378.7 L828.9 378.7 L829.9 378.7 L831.0 378.7 L832.0 378.7 L833.1 378.7 L834.1 378.6 L835.1 378.6 L836.1 378.6 L837.1 378.5 L838.0 378.5 L838.9 378.4 L839.7 378.4 L840.6 378.3 L841.4 378.2 L842.2 378.1 L842.9 378.0 L843.7 377.9 L844.4 377.8 L845.1 377.7 L845.7 377.6 L846.3 377.5 L847.0 377.4 L847.6 377.3 L848.2 377.2 L848.8 377.1 L849.3 377.0 L849.8 376.9 L850.3 376.7 L850.7 376.6 L851.1 376.5 L851.6 376.4 L852.0 376.3 L852.5 376.2 L851.7 372.0 L851.2 372.1 L850.8 372.1 L850.3 372.2 L849.8 372.3 L849.4 372.3 L849.0 372.4 L848.5 372.4 L848.1 372.5 L847.6 372.5 L847.0 372.5 L846.4 372.6 L845.9 372.6 L845.2 372.6 L844.6 372.6 L844.0 372.6 L843.3 372.6 L842.6 372.6 L841.9 372.6 L841.1 372.6 L840.4 372.6 L839.6 372.6 L838.8 372.6 L838.0 372.5 L837.2 372.4 L836.3 372.4 L835.3 372.3 L834.4 372.2 L833.4 372.1 L832.4 372.0 L831.3 371.8 L830.3 371.7 L829.3 371.6 L828.2 371.5 L827.2 371.4 L826.2 371.3Z"/><path d="M854.4 374.9 L854.6 374.0 L854.9 373.0 L855.1 372.1 L855.4 371.1 L855.7 370.1 L855.9 369.2 L856.2 368.2 L856.5 367.2 L856.7 366.3 L857.0 365.3 L857.2 364.4 L857.4 363.4 L857.6 362.4 L857.8 361.4 L857.9 360.4 L858.1 359.4 L858.2 358.5 L858.4 357.5 L858.5 356.5 L858.6 355.6 L858.7 354.6 L858.8 353.7 L859.0 352.7 L857.8 352.5 L857.5 353.4 L857.2 354.3 L857.0 355.2 L856.7 356.2 L856.4 357.1 L856.2 358.0 L855.9 358.9 L855.6 359.8 L855.3 360.7 L854.9 361.7 L854.6 362.6 L854.3 363.4 L853.9 364.3 L853.5 365.2 L853.1 366.1 L852.7 367.0 L852.3 367.8 L851.9 368.7 L851.5 369.7 L851.1 370.6 L850.7 371.5 L850.2 372.4 L849.8 373.3Z"/><path d="M853.3 376.2 L853.9 375.7 L854.6 375.2 L855.2 374.8 L855.8 374.3 L856.4 373.9 L857.0 373.4 L857.6 372.9 L858.2 372.5 L858.8 372.1 L859.4 371.6 L860.1 371.2 L860.7 370.8 L861.3 370.4 L862.0 370.0 L862.7 369.6 L863.4 369.2 L864.2 368.8 L864.9 368.5 L865.6 368.1 L866.3 367.7 L867.1 367.3 L867.8 366.9 L868.5 366.6 L868.1 365.4 L867.3 365.7 L866.5 365.9 L865.7 366.1 L864.9 366.4 L864.1 366.6 L863.3 366.8 L862.5 367.1 L861.7 367.3 L860.9 367.6 L860.1 367.9 L859.3 368.2 L858.6 368.5 L857.9 368.8 L857.2 369.1 L856.4 369.4 L855.7 369.7 L855.0 370.1 L854.3 370.4 L853.6 370.7 L852.9 371.1 L852.3 371.4 L851.6 371.7 L850.9 372.0Z"/><path d="M850.4 375.6 L850.8 375.9 L851.2 376.2 L851.6 376.6 L852.0 376.9 L852.4 377.2 L852.7 377.5 L853.1 377.8 L853.5 378.1 L853.8 378.4 L854.2 378.8 L854.6 379.1 L854.9 379.4 L855.3 379.7 L855.6 380.1 L856.0 380.4 L856.3 380.8 L856.7 381.2 L857.0 381.5 L857.4 381.9 L857.7 382.3 L858.1 382.7 L858.5 383.1 L858.8 383.4 L859.8 382.8 L859.6 382.3 L859.3 381.8 L859.1 381.4 L858.9 380.9 L858.6 380.4 L858.4 380.0 L858.2 379.5 L857.9 379.0 L857.6 378.6 L857.4 378.1 L857.1 377.6 L856.8 377.2 L856.6 376.8 L856.3 376.3 L856.0 375.9 L855.7 375.5 L855.4 375.1 L855.2 374.6 L854.9 374.2 L854.6 373.8 L854.3 373.4 L854.0 373.0 L853.8 372.6Z"/><path d="M846.1 419.6 L847.0 420.4 L848.0 421.2 L849.0 422.1 L849.9 422.9 L850.9 423.8 L851.9 424.8 L853.0 425.6 L854.0 426.5 L855.0 427.4 L856.1 428.1 L857.2 428.9 L858.3 429.5 L859.5 430.1 L860.7 430.6 L861.8 431.1 L863.0 431.4 L864.2 431.7 L865.3 431.9 L866.4 432.1 L867.5 432.3 L868.6 432.6 L869.7 432.8 L870.8 433.1 L871.2 431.9 L870.2 431.4 L869.1 431.0 L868.1 430.5 L867.0 430.1 L866.0 429.7 L865.0 429.3 L864.0 428.8 L863.0 428.3 L862.1 427.8 L861.2 427.1 L860.3 426.5 L859.6 425.8 L858.8 425.0 L858.0 424.1 L857.3 423.2 L856.5 422.2 L855.7 421.2 L855.0 420.2 L854.2 419.1 L853.4 418.0 L852.6 417.0 L851.7 415.9 L850.9 414.8Z"/><path d="M845.2 418.0 L845.7 419.4 L846.2 420.8 L846.7 422.1 L847.2 423.4 L847.7 424.7 L848.2 426.0 L848.7 427.3 L849.1 428.5 L849.5 429.7 L849.8 431.0 L850.0 432.2 L850.1 433.3 L850.1 434.7 L850.1 436.0 L849.9 437.4 L849.6 438.9 L849.3 440.3 L848.9 441.8 L848.5 443.3 L848.1 444.9 L847.7 446.4 L847.3 447.9 L847.0 449.4 L848.2 449.8 L848.7 448.3 L849.3 446.9 L850.0 445.5 L850.6 444.1 L851.3 442.6 L851.9 441.2 L852.5 439.7 L853.0 438.2 L853.5 436.7 L853.9 435.1 L854.1 433.5 L854.2 431.9 L854.2 430.4 L854.1 429.0 L853.9 427.5 L853.7 426.0 L853.4 424.6 L853.1 423.2 L852.8 421.8 L852.5 420.4 L852.2 419.0 L852.0 417.7 L851.8 416.4Z"/><path d="M847.1 417.1 L846.7 417.5 L846.2 417.9 L845.8 418.3 L845.4 418.7 L845.0 419.1 L844.6 419.5 L844.2 419.9 L843.8 420.3 L843.4 420.6 L843.0 421.0 L842.6 421.4 L842.2 421.7 L841.7 422.1 L841.3 422.5 L840.8 422.8 L840.3 423.2 L839.7 423.5 L839.2 423.9 L838.7 424.2 L838.1 424.6 L837.6 424.9 L837.1 425.3 L836.5 425.7 L837.1 426.7 L837.7 426.5 L838.3 426.3 L838.9 426.1 L839.5 425.9 L840.1 425.7 L840.7 425.5 L841.3 425.3 L842.0 425.0 L842.6 424.8 L843.2 424.6 L843.8 424.3 L844.3 424.0 L844.9 423.8 L845.4 423.5 L845.9 423.2 L846.5 422.9 L847.0 422.6 L847.5 422.3 L848.0 422.0 L848.5 421.7 L849.0 421.5 L849.4 421.2 L849.9 420.9Z"/></g>
<path d="M605.3 379.5 L604.5 379.1 L603.8 378.7 L603.0 378.4 L602.3 378.0 L601.5 377.6 L600.7 377.3 L600.0 376.9 L599.1 376.4 L598.3 376.0 L597.4 375.5 L596.5 375.0 L595.5 374.4 L594.4 373.9 L593.4 373.3 L592.3 372.7 L591.2 372.0 L590.1 371.4 L589.0 370.7 L588.0 370.0 L586.9 369.3 L585.8 368.6 L584.8 367.8 L583.7 367.0 L582.7 366.2 L581.6 365.4 L580.6 364.5 L579.5 363.6 L578.5 362.7 L577.4 361.8 L576.4 360.9 L575.4 359.9 L574.3 359.0 L573.3 358.0 L572.2 357.0 L571.2 356.0 L570.2 354.9 L569.1 353.8 L568.1 352.7 L567.0 351.6 L566.0 350.4 L564.9 349.2 L563.9 347.9 L562.8 346.5 L561.7 345.1 L560.6 343.7 L559.5 342.3 L558.4 340.9 L557.4 339.5 L556.4 338.1 L555.5 336.8 L554.6 335.5 L553.8 334.1 L552.9 332.7 L552.1 331.3 L551.3 330.0 L550.6 328.7 L549.9 327.4 L549.3 326.2 L548.7 325.2 L548.1 324.2 L547.6 323.3 L547.1 322.5 L546.7 321.9 L546.4 321.4 L546.1 320.9 L545.9 320.5 L545.6 320.0 L545.3 319.5 L545.0 319.0" fill="none" stroke="#0c0c0c" stroke-width="2.5"/>
<path d="M539.3 311.4 L552.2 321.6 L544.5 321.5 L540.5 327.8 Z" fill="#0c0c0c" stroke="#0c0c0c" stroke-width="0.8" stroke-linejoin="round"/>
<circle cx="624.5" cy="386.4" r="19.6" fill="none" stroke="#0c0c0c" stroke-width="2.5"/>
<path d="M182.0 361.0 L182.2 359.2 L182.4 357.3 L182.6 355.5 L182.9 353.7 L183.2 352.0 L183.5 350.4 L183.9 349.0 L184.3 347.8 L184.8 346.6 L185.3 345.5 L186.0 344.4 L186.7 343.2 L187.5 341.9 L188.5 340.5 L189.5 339.1 L190.6 337.8 L191.8 336.4 L193.0 335.1 L194.3 333.8 L195.7 332.6 L197.1 331.4 L198.6 330.2 L200.2 329.1 L201.9 328.0 L203.7 327.0 L205.6 326.0 L207.6 325.0 L209.6 324.1 L211.6 323.3 L213.6 322.6 L215.6 322.0 L217.5 321.4 L219.5 321.0 L221.5 320.6 L223.4 320.2 L225.3 319.9 L227.1 319.6 L228.9 319.4 L230.7 319.2 L232.5 319.1 L234.2 319.0 L236.0 319.0 L237.7 319.0 L239.3 319.1 L240.9 319.3 L242.6 319.5 L244.6 319.8 L246.8 320.3 L249.4 320.9 L252.4 321.7 L255.6 322.5 L258.9 323.5 L262.1 324.5 L265.0 325.5 L267.7 326.5 L270.3 327.6 L272.9 328.8 L275.3 329.9 L277.7 331.2 L280.0 332.5 L282.2 333.8 L284.3 335.1 L286.3 336.5 L288.4 338.0 L290.4 339.7 L292.5 341.6 L294.7 343.8 L296.9 346.2 L299.2 348.8 L301.5 351.6 L303.7 354.6 L305.9 357.7 L308.1 361.2 L310.3 365.0 L312.5 369.0 L314.7 372.9 L316.7 376.7 L318.5 380.0 L320.1 382.8 L321.4 385.2 L322.7 387.4 L323.8 389.6 L325.0 391.8 L326.3 394.3 L327.7 397.2 L329.2 400.3 L330.7 403.5 L332.1 406.7 L333.4 409.7 L334.6 412.3 L335.5 414.4 L336.2 416.1 L336.8 417.6 L337.3 419.1 L338.0 420.8 L339.0 423.0 L340.2 425.8 L341.5 429.0 L343.0 432.4 L344.6 435.9 L346.3 439.3 L348.0 442.4 L349.8 445.2 L351.7 447.8 L353.6 450.4 L355.7 452.8 L357.8 455.2 L360.0 457.5 L362.3 459.8 L364.7 462.0 L367.3 464.1 L369.8 466.2 L372.4 468.1 L374.9 470.0 L377.4 471.8 L379.9 473.5 L382.4 475.1 L384.9 476.6 L387.4 478.1 L389.9 479.5 L392.4 480.9 L394.9 482.2 L397.4 483.5 L399.9 484.8 L402.4 485.9 L404.9 487.0 L407.4 488.0 L409.9 488.9 L412.3 489.7 L414.8 490.5 L417.3 491.2 L419.8 491.8 L422.3 492.3 L424.8 492.8 L427.3 493.2 L429.8 493.5 L432.3 493.8 L434.8 494.0 L437.3 494.1 L439.9 494.2 L442.5 494.2 L445.0 494.1 L447.5 494.0 L449.8 493.8 L452.0 493.6 L454.1 493.3 L456.1 492.9 L458.1 492.5 L460.0 492.1 L462.0 491.6 L463.9 491.1 L465.8 490.7 L467.6 490.2 L469.5 489.7 L471.6 488.9 L474.0 488.0 L476.8 486.8 L479.8 485.3 L483.1 483.7 L486.5 482.0 L489.8 480.3 L493.1 478.8 L496.3 477.4 L499.4 476.1 L502.6 474.8 L505.8 473.6 L508.9 472.4 L512.1 471.2 L515.3 470.1 L518.5 469.0 L521.7 467.9 L524.8 466.9 L528.0 465.8 L531.2 464.8 L534.4 463.7 L537.5 462.7 L540.7 461.6 L543.9 460.6 L547.0 459.5 L550.2 458.5 L553.4 457.5 L556.7 456.4 L560.0 455.4 L563.2 454.4 L566.3 453.6 L569.3 452.8 L572.2 452.2 L575.0 451.6 L577.8 451.2 L580.4 450.8 L582.8 450.5 L585.0 450.2 L586.8 450.0 L588.2 449.8 L589.5 449.7 L590.7 449.6 L592.0 449.5 L593.7 449.4 L595.7 449.2 L597.9 449.0 L600.2 448.8 L602.6 448.6 L605.0 448.6 L607.3 448.7 L609.6 449.0 L611.9 449.4 L614.1 449.9 L616.4 450.6 L618.7 451.3 L621.0 452.1 L623.3 453.1 L625.6 454.2 L627.9 455.4 L630.1 456.6 L632.4 457.8 L634.7 458.9 L637.0 459.9 L639.3 460.9 L641.6 461.9 L643.8 462.8 L646.1 463.6 L648.4 464.4 L650.7 465.1 L652.9 465.8 L655.2 466.4 L657.5 466.9 L659.7 467.4 L662.0 467.8 L664.3 468.1 L666.6 468.4 L668.8 468.6 L671.1 468.7 L673.4 468.8 L675.7 468.9 L677.9 468.9 L680.1 468.9 L682.3 468.9 L684.5 468.8 L686.9 468.7 L689.4 468.5 L692.7 468.2 L696.2 467.7 L699.9 467.2 L703.6 466.7 L707.2 466.2" fill="none" stroke="#3941b7" stroke-width="3.8" stroke-linecap="round" stroke-linejoin="round"/>
<path d="M170 403 L222 403 Q226 403 227.5 406.5 C235 425 243.6 450 243.6 474 C243.6 500 238 520 226 532 Q223 535.3 218 535.3 L175 535.3 Q170 535.3 167 532 C155 520 148.6 500 148.6 474 C148.6 450 157 425 164.5 406.5 Q166 403 170 403 Z" fill="#abe2fa" stroke="#9fdaf6" stroke-width="1"/>
<path d="M154.7 502.3 L238.9 502.3 C237.5 512 234 522 226 529 Q224 530.8 220.9 530.8 L170.4 530.8 Q167.5 530.8 165.5 529 C158 522 155.5 512 154.7 502.3 Z" fill="#a96af7"/>
<path d="M176.2 360.1 L187 360.1 L184.3 382.8 L186.6 403 L176.7 403 L179.4 382.8 Z" fill="#3f94f5"/>
<rect x="172.6" y="381.3" width="18.5" height="2.7" fill="#9dd4f5"/>
<rect x="195.1" y="372.5" width="21.1" height="30.5" fill="#a9def9"/>
<rect x="197.8" y="378.8" width="15.7" height="24.2" fill="#3f97f6"/>
<g stroke="#1c1c1c" stroke-width="1.5">
  <line x1="320" y1="146.3" x2="474" y2="146.3"/>
  <line x1="324" y1="195.5" x2="551.5" y2="195.5"/>
  <line x1="308.5" y1="244.4" x2="494.5" y2="244.4"/>
</g>
<text transform="scale(1.0415,1)" x="178.78" y="151.9" font-size="18.0" textLength="117.62" lengthAdjust="spacing">Parietal pleura</text>
<text transform="scale(1.0485,1)" x="177.02" y="200.6" font-size="18.0" textLength="120.56" lengthAdjust="spacing">Visceral pleura</text>
<text transform="scale(1.0373,1)" x="179.70" y="249.1" font-size="18.0" textLength="110.39" lengthAdjust="spacing">Pleural space</text>
<text transform="scale(1.0660,1)" x="108.44" y="570.8" font-size="18.6" textLength="154.03" lengthAdjust="spacing">Negative pressure</text>
<text transform="scale(1.1029,1)" x="139.45" y="594.2" font-size="18.6" textLength="78.88" lengthAdjust="spacing">container</text>
<text transform="scale(1.0609,1)" x="626.62" y="582.55" font-size="18.8" textLength="180.88" lengthAdjust="spacing">Fluid in pleural space</text>
</svg>
</body></html>
